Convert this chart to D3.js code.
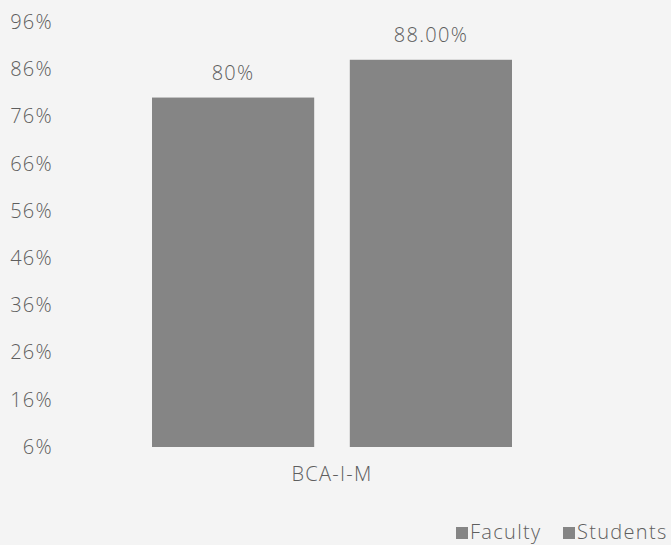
<!DOCTYPE html>
<html>
<head>
<meta charset="utf-8">
<script src="https://cdn.jsdelivr.net/npm/d3@7"></script>
<style>
  body { margin: 0; background: #f4f4f4; }
  svg { display: block; font-family: "Open Sans", "Liberation Sans", sans-serif; }
</style>
</head>
<body>
<div id="chart"></div>
<script>
// data
const categories = ["BCA-I-M"];
const seriesNames = ["Faculty", "Students"];
const faculty = [0.80];
const students = [0.88];
const valueLabels = [["80%"], ["88.00%"]];
const yTicks = [0.06, 0.16, 0.26, 0.36, 0.46, 0.56, 0.66, 0.76, 0.86, 0.96];

const width = 671, height = 545;
const barColor = "#858585";
const textColor = "#5e5e5e";
const fontSize = "20px";
const spacing = "1.3px";

const svg = d3.select("#chart").append("svg")
  .attr("width", width)
  .attr("height", height);

const y = d3.scaleLinear().domain([0.06, 0.96]).range([447, 22]);

const x0 = d3.scaleBand().domain(categories).range([152, 512]);
const x1 = d3.scaleBand().domain(seriesNames)
  .range([0, x0.bandwidth()])
  .paddingInner(0.18);

function styleText(sel) {
  sel.attr("fill", textColor)
    .style("font-size", fontSize)
    .style("font-weight", 300)
    .style("letter-spacing", spacing)
    .style("font-family", "'Open Sans', 'Liberation Sans', sans-serif");
}

// y axis (labels only)
const yAxis = d3.axisLeft(y)
  .tickValues(yTicks)
  .tickFormat(d => Math.round(d * 100) + "%")
  .tickSize(0)
  .tickPadding(0);

svg.append("g")
  .attr("transform", "translate(53,0)")
  .call(yAxis)
  .call(g => g.select(".domain").remove())
  .selectAll("text")
  .call(styleText);

// bars
const rows = categories.map((c, i) => ({cat: c, vals: [faculty[i], students[i]]}));

const groups = svg.selectAll("g.cat")
  .data(rows)
  .join("g")
  .attr("class", "cat")
  .attr("transform", d => `translate(${x0(d.cat)},0)`);

groups.selectAll("rect")
  .data(d => d.vals.map((v, j) => ({name: seriesNames[j], v: v})))
  .join("rect")
  .attr("x", d => x1(d.name))
  .attr("y", d => y(d.v))
  .attr("width", x1.bandwidth())
  .attr("height", d => y(0.06) - y(d.v))
  .attr("fill", barColor);

groups.selectAll("text.val")
  .data((d, i) => d.vals.map((v, j) => ({name: seriesNames[j], v: v, label: valueLabels[j][i]})))
  .join("text")
  .attr("class", "val")
  .attr("x", d => x1(d.name) + x1.bandwidth() / 2)
  .attr("y", d => y(d.v) - 18)
  .attr("text-anchor", "middle")
  .call(styleText)
  .text(d => d.label);

// category axis label
const xAxis = d3.axisBottom(x0).tickSize(0).tickPadding(0);
svg.append("g")
  .attr("transform", "translate(0,467)")
  .call(xAxis)
  .call(g => g.select(".domain").remove())
  .selectAll("text")
  .call(styleText);

// legend
const legendX = [456, 563];
const legend = svg.selectAll("g.legendEntry")
  .data(seriesNames)
  .join("g")
  .attr("class", "legendEntry")
  .attr("transform", (d, i) => `translate(${legendX[i]},527)`);

legend.append("rect")
  .attr("width", 12)
  .attr("height", 12)
  .attr("fill", barColor);

legend.append("text")
  .attr("x", 14)
  .attr("y", 12)
  .call(styleText)
  .text(d => d);
</script>
</body>
</html>
